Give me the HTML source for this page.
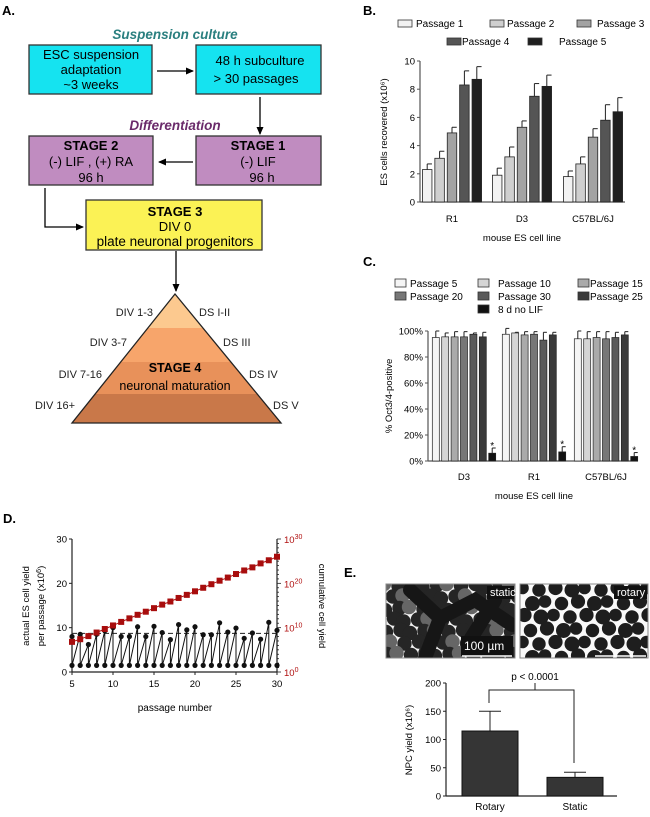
<!DOCTYPE html>
<html><head><meta charset="utf-8"><style>
body{margin:0;background:#fff}
svg{display:block;font-family:"Liberation Sans",Arial,sans-serif}
</style></head><body>
<svg id="fig" width="650" height="817" viewBox="0 0 650 817">
<defs><marker id="ah" markerWidth="8" markerHeight="8" refX="7" refY="4" orient="auto" markerUnits="userSpaceOnUse"><path d="M0,0.5 L8,4 L0,7.5Z" fill="#000"/></marker></defs>

<!-- Panel A -->
<g font-size="13">
<text x="2" y="15" font-size="13" font-weight="bold">A.</text>
<text x="175" y="39" text-anchor="middle" font-weight="bold" font-style="italic" fill="#2a7f7f" font-size="13.5">Suspension culture</text>
<rect x="29" y="45" width="123" height="49" fill="#15e3f0" stroke="#333" stroke-width="1.3"/>
<text x="91" y="59" text-anchor="middle">ESC suspension</text><text x="91" y="74" text-anchor="middle">adaptation</text><text x="91" y="89" text-anchor="middle">~3 weeks</text>
<rect x="196" y="45" width="125" height="49" fill="#15e3f0" stroke="#333" stroke-width="1.3"/>
<text x="260" y="65" text-anchor="middle">48 h subculture</text><text x="256" y="83" text-anchor="middle">&gt; 30 passages</text>
<line x1="157" y1="71" x2="193" y2="71" stroke="#000" stroke-width="1.3" marker-end="url(#ah)"/>
<line x1="260" y1="97" x2="260" y2="134" stroke="#000" stroke-width="1.3" marker-end="url(#ah)"/>
<text x="175" y="130" text-anchor="middle" font-weight="bold" font-style="italic" fill="#6a2a6a" font-size="13.5">Differentiation</text>
<rect x="29" y="136" width="124" height="49" fill="#c08cc0" stroke="#333" stroke-width="1.3"/>
<text x="91" y="150" text-anchor="middle" font-weight="bold">STAGE 2</text><text x="91" y="166" text-anchor="middle">(-) LIF , (+) RA</text><text x="91" y="182" text-anchor="middle">96 h</text>
<rect x="196" y="136" width="125" height="49" fill="#c08cc0" stroke="#333" stroke-width="1.3"/>
<text x="258" y="150" text-anchor="middle" font-weight="bold">STAGE 1</text><text x="258" y="166" text-anchor="middle">(-) LIF</text><text x="262" y="182" text-anchor="middle">96 h</text>
<line x1="193" y1="162" x2="159" y2="162" stroke="#000" stroke-width="1.3" marker-end="url(#ah)"/>
<polyline points="45,188 45,227 83,227" fill="none" stroke="#000" stroke-width="1.3" marker-end="url(#ah)"/>
<rect x="86" y="200" width="176" height="50" fill="#fbf255" stroke="#333" stroke-width="1.3"/>
<text x="175" y="216" text-anchor="middle" font-weight="bold">STAGE 3</text><text x="175" y="231" text-anchor="middle">DIV 0</text><text x="175" y="246" text-anchor="middle" font-size="13.5">plate neuronal progenitors</text>
<line x1="176" y1="251" x2="176" y2="291" stroke="#000" stroke-width="1.3" marker-end="url(#ah)"/>
<clipPath id="tri"><polygon points="175,294 72,423 281,423"/></clipPath>
<g clip-path="url(#tri)">
<rect x="60" y="290" width="230" height="38" fill="#fcc98f"/>
<rect x="60" y="328" width="230" height="34" fill="#f7a56b"/>
<rect x="60" y="362" width="230" height="32" fill="#e8915a"/>
<rect x="60" y="394" width="230" height="30" fill="#c97849"/>
</g>
<polygon points="175,294 72,423 281,423" fill="none" stroke="#222" stroke-width="1.3"/>
<g font-size="11" fill="#222">
<text x="153" y="316" text-anchor="end">DIV 1-3</text><text x="199" y="316">DS I-II</text>
<text x="127" y="346" text-anchor="end">DIV 3-7</text><text x="223" y="346">DS III</text>
<text x="102" y="378" text-anchor="end">DIV 7-16</text><text x="249" y="378">DS IV</text>
<text x="75" y="409" text-anchor="end">DIV 16+</text><text x="273" y="409">DS V</text>
</g>
<text x="175" y="372" text-anchor="middle" font-weight="bold" font-size="12.5">STAGE 4</text>
<text x="175" y="390" text-anchor="middle" font-size="12.5">neuronal maturation</text>
</g>

<g id="pb" font-size="9.5"></g>
<g id="pc" font-size="9.5"></g>
<g id="pd" font-size="9.5"></g>
<g id="pe" font-size="9.5"></g>
</svg>
<script>
// ---------- Panel B data ----------
const bCategories = ["R1", "D3", "C57BL/6J"];
const bSeries = ["Passage 1", "Passage 2", "Passage 3", "Passage 4", "Passage 5"];
const bValues = [[2.3, 3.1, 4.9, 8.3, 8.7], [1.9, 3.2, 5.3, 7.5, 8.2], [1.8, 2.7, 4.6, 5.8, 6.4]];
const bErrors = [[0.4, 0.5, 0.4, 1.0, 0.9], [0.5, 0.7, 0.45, 0.9, 0.8], [0.4, 0.5, 0.6, 1.1, 1.0]];
const bTicks = [0, 2, 4, 6, 8, 10];
// ---------- Panel C data ----------
const cCategories = ["D3", "R1", "C57BL/6J"];
const cSeries = ["Passage 5", "Passage 10", "Passage 15", "Passage 20", "Passage 30", "Passage 25", "8 d no LIF"];
const cValues = [[95, 95.5, 95.5, 95.5, 97.5, 95.5, 6], [97.5, 98.5, 97, 97.5, 93, 97, 7], [94, 94, 95, 94, 95, 97, 3.5]];
const cErrors = [[5, 3, 4, 4, 1, 3.5, 4], [4.5, 0.5, 2.5, 2, 6, 2, 4], [6, 5.5, 4.5, 5.5, 4, 2.5, 3]];
const cTicks = [0, 20, 40, 60, 80, 100];
// ---------- Panel D data ----------
const dPassages = [5,6,7,8,9,10,11,12,13,14,15,16,17,18,19,20,21,22,23,24,25,26,27,28,29,30];
const dYield = [8,8.5,6.2,8.5,9.3,10,8,8,10.2,8,10.3,8.9,7.3,10.7,9.5,10.2,8.4,8.4,11.1,9,9.9,7.6,8.8,7.4,11.2,9.4];
const dSeed = 1.5;
const dCumLog = [6.8,7.4,8.1,8.9,9.7,10.5,11.3,12.1,12.9,13.6,14.4,15.2,15.9,16.7,17.4,18.2,19,19.8,20.6,21.3,22.1,22.9,23.6,24.5,25.2,26];
const dMean = 8.7;
const dLeftTicks = [0, 10, 20, 30];
const dXTicks = [5, 10, 15, 20, 25, 30];
const dRightTicks = [0, 10, 20, 30];
// ---------- Panel E data ----------
const eCategories = ["Rotary", "Static"];
const eValues = [115, 33];
const eErrors = [35, 9];
const eTicks = [0, 50, 100, 150, 200];

const NS = "http://www.w3.org/2000/svg";
function mk(parent, tag, attrs, text) {
  const e = document.createElementNS(NS, tag);
  for (const k in attrs) e.setAttribute(k, attrs[k]);
  if (text !== undefined) e.textContent = text;
  parent.appendChild(e); return e;
}

// ===== Panel B =====
(function(){
  const g = document.getElementById('pb');
  mk(g,'text',{x:363,y:15,'font-size':13,'font-weight':'bold'},'B.');
  const colors = ['#f2f2f2','#cfcfcf','#a3a3a3','#555555','#1f1f1f'];
  const legPos = [[398,25],[490,25],[577,25],[447,43],[528,43]];
  const legTx = [416,507,597,462,559];
  bSeries.forEach((s,i)=>{
    const r = mk(g,'rect',{x:legPos[i][0],y:legPos[i][1]-5,width:14,height:7,fill:colors[i],stroke:'#333','stroke-width':0.8});
    
    
    const t = mk(g,'text',{x:legTx[i],y:legPos[i][1]+2,'font-size':10},s);
    
    
  });
  const y0=202, y1=61, x0=420, x1=625;
  const ys = v => y0 - (v/10)*(y0-y1);
  mk(g,'line',{x1:x0,y1:y0,x2:x1,y2:y0,stroke:'#555','stroke-width':1.2});
  mk(g,'line',{x1:x0,y1:y0,x2:x0,y2:y1,stroke:'#555','stroke-width':1.2});
  bTicks.forEach(t=>{
    mk(g,'line',{x1:x0-3,y1:ys(t),x2:x0,y2:ys(t),stroke:'#555'});
    mk(g,'text',{x:x0-5,y:ys(t)+3.5,'text-anchor':'end'},String(t));
  });
  const centers=[452,522,593], step=12.4, bw=9.5;
  bCategories.forEach((c,ci)=>{
    const tl = mk(g,'text',{x:centers[ci],y:222,'text-anchor':'middle'},c);
    
    
    bValues[ci].forEach((v,si)=>{
      const x = centers[ci] + (si-2)*step - bw/2;
      const e = bErrors[ci][si];
      mk(g,'line',{x1:x+bw/2,y1:ys(v),x2:x+bw/2,y2:ys(v+e),stroke:'#222','stroke-width':1});
      mk(g,'line',{x1:x+bw/2,y1:ys(v+e),x2:x+bw,y2:ys(v+e),stroke:'#222','stroke-width':1});
      const r = mk(g,'rect',{x:x,y:ys(v),width:bw,height:y0-ys(v),fill:colors[si],stroke:'#222','stroke-width':0.8});
      
      
    });
  });
  mk(g,'text',{x:522,y:241,'text-anchor':'middle'},'mouse ES cell line');
  const yl = mk(g,'text',{transform:'translate(387,132) rotate(-90)','text-anchor':'middle'},'ES cells recovered (x10⁶)');
  
  
})();

// ===== Panel C =====
(function(){
  const g = document.getElementById('pc');
  mk(g,'text',{x:363,y:266,'font-size':13,'font-weight':'bold'},'C.');
  const colors=['#f5f5f5','#d5d5d5','#aaaaaa','#777777','#5a5a5a','#3a3a3a','#111111'];
  const lx=[395,478,578,395,478,578,478], ly=[285,285,285,298,298,298,311], tx=[410,498,590,410,498,590,498];
  cSeries.forEach((s,i)=>{
    const r = mk(g,'rect',{x:lx[i],y:ly[i]-6,width:11,height:8,fill:colors[i],stroke:'#333','stroke-width':0.8});
    
    
    const t = mk(g,'text',{x:tx[i],y:ly[i]+2,'font-size':10},s);
    
    
  });
  const y0=461,y1=331,x0=428,x1=638;
  const ys=v=>y0-(v/100)*(y0-y1);
  mk(g,'line',{x1:x0,y1:y0,x2:x1,y2:y0,stroke:'#555','stroke-width':1.2});
  mk(g,'line',{x1:x0,y1:y0,x2:x0,y2:y1,stroke:'#555','stroke-width':1.2});
  cTicks.forEach(t=>{
    mk(g,'line',{x1:x0-3,y1:ys(t),x2:x0,y2:ys(t),stroke:'#555'});
    mk(g,'text',{x:x0-5,y:ys(t)+3.5,'text-anchor':'end'},t+'%');
  });
  const centers=[464,534,606], step=9.4, bw=7;
  cCategories.forEach((c,ci)=>{
    mk(g,'text',{x:centers[ci],y:480,'text-anchor':'middle'},c);
    cValues[ci].forEach((v,si)=>{
      const x=centers[ci]+(si-3)*step-bw/2, e=cErrors[ci][si];
      mk(g,'line',{x1:x+bw/2,y1:ys(v),x2:x+bw/2,y2:ys(v+e),stroke:'#222'});
      mk(g,'line',{x1:x+bw/2,y1:ys(v+e),x2:x+bw,y2:ys(v+e),stroke:'#222'});
      const r=mk(g,'rect',{x:x,y:ys(v),width:bw,height:y0-ys(v),fill:colors[si],stroke:'#222','stroke-width':0.7});
      
      
      if(si===6){ mk(g,'text',{x:x+bw/2,y:ys(v+e)+1,'text-anchor':'middle','font-size':10},'*'); }
    });
  });
  mk(g,'text',{x:534,y:499,'text-anchor':'middle'},'mouse ES cell line');
  const yl=mk(g,'text',{transform:'translate(392,396) rotate(-90)','text-anchor':'middle'},'% Oct3/4-positive');
  
  
})();

// ===== Panel D =====
(function(){
  const g=document.getElementById('pd');
  mk(g,'text',{x:3,y:523,'font-size':13,'font-weight':'bold'},'D.');
  const x0=72,x1=277,y0=672,y1=539;
  const xs=p=>x0+(p-5)/25*(x1-x0);
  const ys=v=>y0-v/30*(y0-y1);
  const yr=l=>y0-l/30*(y0-y1);
  mk(g,'line',{x1:x0,y1:y0,x2:x1,y2:y0,stroke:'#222','stroke-width':1.2});
  mk(g,'line',{x1:x0,y1:y0,x2:x0,y2:y1,stroke:'#222','stroke-width':1.2});
  mk(g,'line',{x1:x1,y1:y0,x2:x1,y2:y1,stroke:'#222','stroke-width':1.2});
  dLeftTicks.forEach(t=>{mk(g,'line',{x1:x0-3,y1:ys(t),x2:x0,y2:ys(t),stroke:'#222'});
    mk(g,'text',{x:x0-5,y:ys(t)+3.5,'text-anchor':'end'},String(t));});
  dXTicks.forEach(t=>{mk(g,'line',{x1:xs(t),y1:y0,x2:xs(t),y2:y0+3,stroke:'#222'});
    mk(g,'text',{x:xs(t),y:y0+15,'text-anchor':'middle'},String(t));});
  for(let l=0;l<=30;l++){ const major=l%10===0;
    mk(g,'line',{x1:x1,y1:yr(l),x2:x1+(major?4:2),y2:yr(l),stroke:'#222','stroke-width':0.8}); }
  dRightTicks.forEach(t=>{const tx=mk(g,'text',{x:x1+7,y:yr(t)+4,fill:'#b01010'},'10');
    mk(tx,'tspan',{dy:-4,'font-size':7},String(t));});
  mk(g,'line',{x1:x0,y1:ys(dMean),x2:x1,y2:ys(dMean),stroke:'#222','stroke-dasharray':'5,3'});
  let pts=[];
  dPassages.forEach((p,i)=>{
    pts.push(xs(p)+','+ys(dYield[i]));
    pts.push(xs(p)+','+ys(dSeed));
  });
  const pl=mk(g,'polyline',{points:pts.join(' '),fill:'none',stroke:'#111','stroke-width':1});
  
  
  dPassages.forEach((p,i)=>{
    const c1=mk(g,'circle',{cx:xs(p),cy:ys(dYield[i]),r:2.6,fill:'#111'});
    
    
    mk(g,'circle',{cx:xs(p),cy:ys(dSeed),r:2.6,fill:'#111'});
  });
  const cl=mk(g,'polyline',{points:dPassages.map((p,i)=>xs(p)+','+yr(dCumLog[i])).join(' '),fill:'none',stroke:'#b01010','stroke-width':1});
  
  
  dPassages.forEach((p,i)=>{
    const r=mk(g,'rect',{x:xs(p)-3,y:yr(dCumLog[i])-3,width:6,height:6,fill:'#a80d0d'});
    
    
  });
  mk(g,'text',{x:175,y:711,'text-anchor':'middle','font-size':10},'passage number');
  mk(g,'text',{transform:'translate(29,606) rotate(-90)','text-anchor':'middle'},'actual ES cell yield');
  const t2=mk(g,'text',{transform:'translate(44,606) rotate(-90)','text-anchor':'middle'},'per passage (x10');
  mk(t2,'tspan',{dy:-3,'font-size':7},'6');mk(t2,'tspan',{dy:3},')');
  mk(g,'text',{transform:'translate(319,606) rotate(90)','text-anchor':'middle'},'cumulative cell yield');
})();

// ===== Panel E =====
(function(){
  const g=document.getElementById('pe');
  mk(g,'text',{x:344,y:577,'font-size':13,'font-weight':'bold'},'E.');
  const s=mk(g,'g',{});
  
  
  mk(s,'clipPath',{id:'cs'}); mk(document.getElementById('cs'),'rect',{x:386,y:584,width:129,height:74});
  const sg=mk(s,'g',{'clip-path':'url(#cs)'});
  mk(sg,'rect',{x:386,y:584,width:129,height:74,fill:'#f2f2f2'});
  for(let j=0;j<7;j++)for(let i=0;i<11;i++){
    const k=(i*7+j*13)%5;
    mk(sg,'circle',{cx:386+i*12.5+(j%2)*6+(k-2),cy:586+j*11.5+((k*3)%4-2),r:7.2,fill:k===0?'#666':'#252525'});
  }
  mk(sg,'path',{d:'M410,590 L440,618 L475,600 L512,625 M440,618 L425,658 M470,640 L495,600',stroke:'#161616','stroke-width':14,fill:'none','stroke-linecap':'round'});
  mk(s,'rect',{x:386,y:584,width:129,height:74,fill:'none',stroke:'#888','stroke-width':1});
  mk(s,'rect',{x:461,y:636,width:52,height:20,fill:'#111'});
  mk(s,'text',{x:464,y:650,fill:'#fff','font-size':12},'100 µm');
  mk(s,'line',{x1:462,y1:656,x2:512,y2:656,stroke:'#fff','stroke-width':1.5});
  mk(s,'rect',{x:487,y:586,width:27,height:13,fill:'#111'});
  mk(s,'text',{x:490,y:596,fill:'#fff','font-size':11},'static');
  const r=mk(g,'g',{});
  
  
  mk(r,'clipPath',{id:'cr'}); mk(document.getElementById('cr'),'rect',{x:520,y:584,width:128,height:74});
  const rg=mk(r,'g',{'clip-path':'url(#cr)'});
  mk(rg,'rect',{x:520,y:584,width:128,height:74,fill:'#fafafa'});
  for(let j=0;j<6;j++)for(let i=0;i<9;i++){
    const k=(i*5+j*3)%4;
    mk(rg,'circle',{cx:524+i*15.5+(j%2)*7+(k-1.5),cy:588+j*13.5+(k%2)*2,r:6.3+k*0.4,fill:'#1e1e1e'});
  }
  mk(r,'rect',{x:520,y:584,width:128,height:74,fill:'none',stroke:'#888'});
  mk(r,'rect',{x:614,y:586,width:33,height:13,fill:'#111'});
  mk(r,'text',{x:617,y:596,fill:'#fff','font-size':11},'rotary');
  mk(r,'line',{x1:595,y1:656,x2:646,y2:656,stroke:'#fff','stroke-width':1.5});
  const x0=446,x1=617,y0=796,y1=683;
  const ys=v=>y0-v/200*(y0-y1);
  mk(g,'line',{x1:x0,y1:y0,x2:x1,y2:y0,stroke:'#222','stroke-width':1.2});
  mk(g,'line',{x1:x0,y1:y0,x2:x0,y2:y1,stroke:'#222','stroke-width':1.2});
  eTicks.forEach(t=>{mk(g,'line',{x1:x0-3,y1:ys(t),x2:x0,y2:ys(t),stroke:'#222'});
    mk(g,'text',{x:x0-5,y:ys(t)+3.5,'text-anchor':'end'},String(t));});
  const bx=[462,547], bw=56;
  eCategories.forEach((c,i)=>{
    const v=eValues[i],e=eErrors[i];
    mk(g,'line',{x1:bx[i]+bw/2,y1:ys(v),x2:bx[i]+bw/2,y2:ys(v+e),stroke:'#222'});
    mk(g,'line',{x1:bx[i]+bw/2-11,y1:ys(v+e),x2:bx[i]+bw/2+11,y2:ys(v+e),stroke:'#222'});
    const rr=mk(g,'rect',{x:bx[i],y:ys(v),width:bw,height:y0-ys(v),fill:'#353535',stroke:'#111'});
    
    
    mk(g,'text',{x:bx[i]+bw/2,y:y0+14,'text-anchor':'middle','font-size':10},c);
  });
  mk(g,'polyline',{points:'489,703 489,690 574,690 574,763',fill:'none',stroke:'#222'});
  mk(g,'line',{x1:535,y1:690,x2:535,y2:683,stroke:'#222'});
  mk(g,'text',{x:535,y:680,'text-anchor':'middle','font-size':10},'p < 0.0001');
  const yl=mk(g,'text',{transform:'translate(412,740) rotate(-90)','text-anchor':'middle'},'NPC yield (x10⁶)');
  
  
})();
</script>
</body></html>
